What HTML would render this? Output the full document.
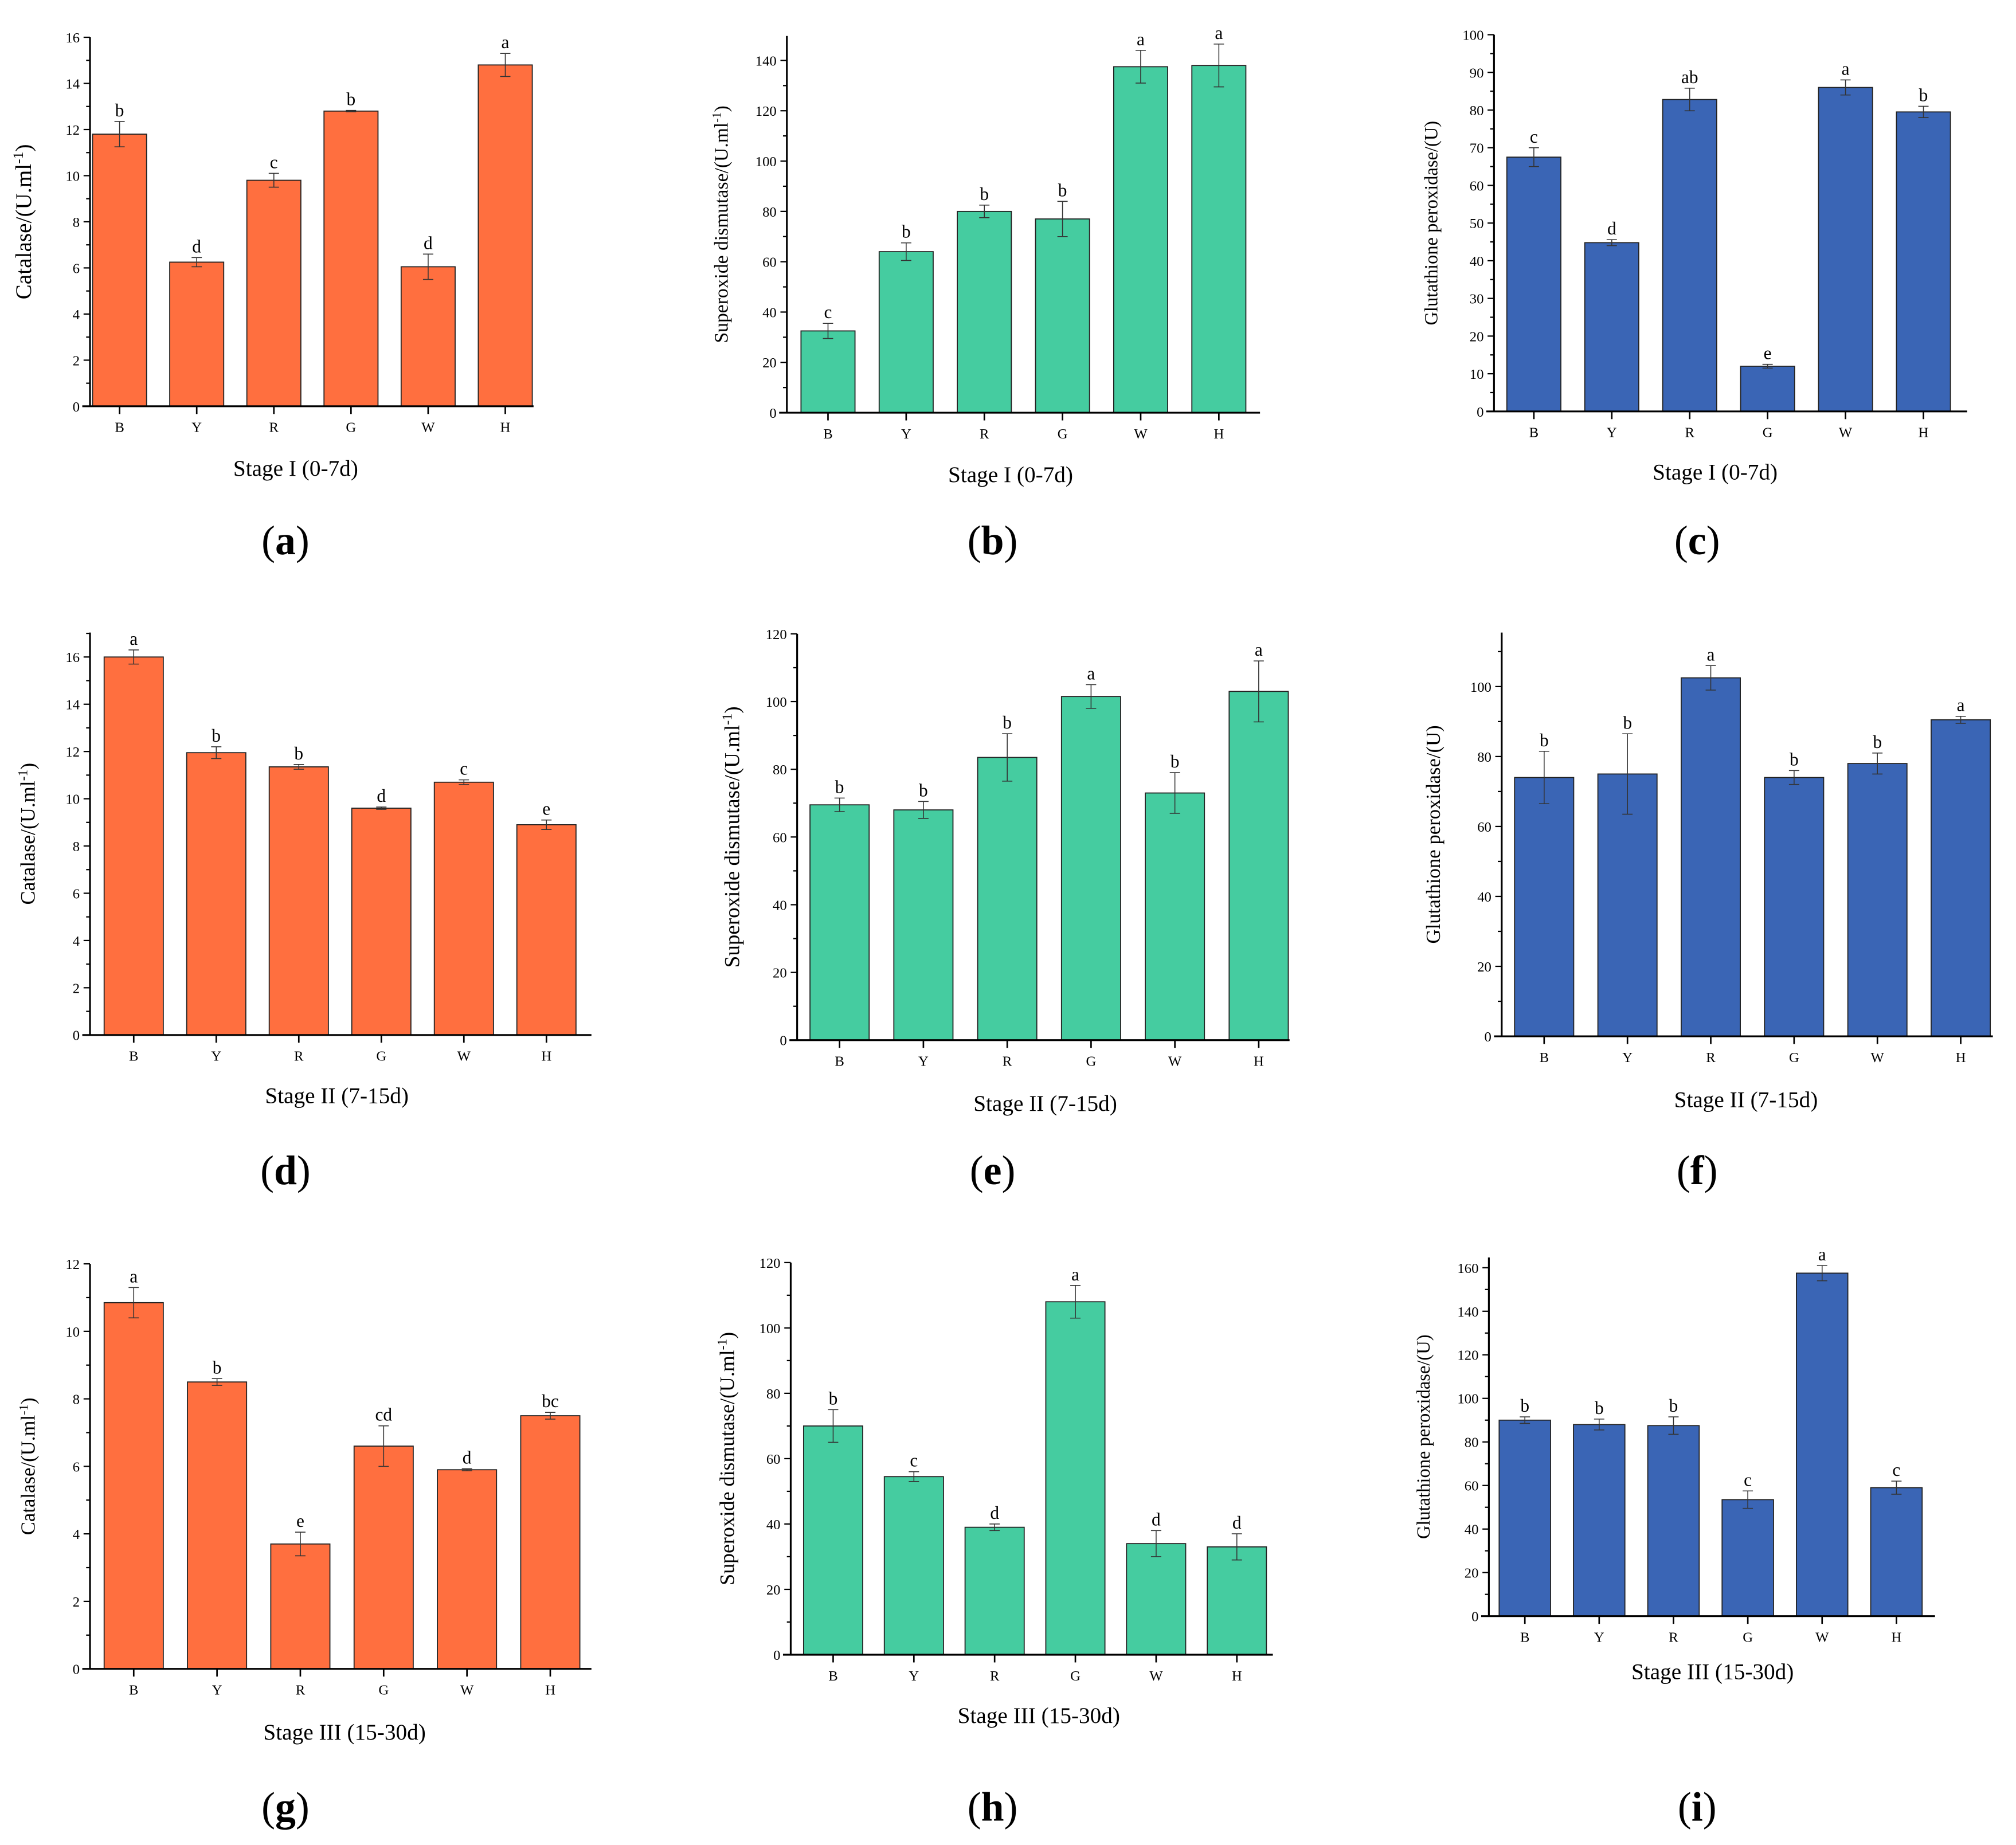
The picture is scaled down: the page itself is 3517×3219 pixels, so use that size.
<!DOCTYPE html>
<html><head><meta charset="utf-8"><style>
html,body{margin:0;padding:0;background:#fff}
svg{display:block;font-family:"Liberation Serif",serif}
</style></head><body>
<svg id="fig" width="3517" height="3219" viewBox="0 0 1568 1435" preserveAspectRatio="none" xmlns="http://www.w3.org/2000/svg"></svg>
<script>
const categories = ["B","Y","R","G","W","H"];
// Panel values (mean), errors, significance letters
const catA = [11.8,6.25,9.8,12.8,6.05,14.8];
const catAErr = [0.55,0.2,0.3,0.03,0.55,0.5];
const catALet = ["b","d","c","b","d","a"];
const sodB = [32.5,64,80,77,137.5,138];
const sodBErr = [3,3.5,2.5,7,6.5,8.5];
const sodBLet = ["c","b","b","b","a","a"];
const gpxC = [67.5,44.8,82.8,12,86,79.5];
const gpxCErr = [2.5,0.8,3,0.5,2,1.5];
const gpxCLet = ["c","d","ab","e","a","b"];
const catD = [16,11.95,11.35,9.6,10.7,8.9];
const catDErr = [0.3,0.25,0.1,0.05,0.1,0.2];
const catDLet = ["a","b","b","d","c","e"];
const sodE = [69.5,68,83.5,101.5,73,103];
const sodEErr = [2,2.5,7,3.5,6,9];
const sodELet = ["b","b","b","a","b","a"];
const gpxF = [74,75,102.5,74,78,90.5];
const gpxFErr = [7.5,11.5,3.5,2,3,1];
const gpxFLet = ["b","b","a","b","b","a"];
const catG = [10.85,8.5,3.7,6.6,5.9,7.5];
const catGErr = [0.45,0.1,0.35,0.6,0.03,0.1];
const catGLet = ["a","b","e","cd","d","bc"];
const sodH = [70,54.5,39,108,34,33];
const sodHErr = [5,1.5,1,5,4,4];
const sodHLet = ["b","c","d","a","d","d"];
const gpxI = [90,88,87.5,53.5,157.5,59];
const gpxIErr = [1.5,2.5,4,4,3.5,3];
const gpxILet = ["b","b","b","c","a","c"];
const yTicksCat16 = [0,2,4,6,8,10,12,14,16];
const yTicksSod140 = [0,20,40,60,80,100,120,140];
const yTicksGpx100 = [0,10,20,30,40,50,60,70,80,90,100];
const yTicksSod120 = [0,20,40,60,80,100,120];
const yTicksGpx100b = [0,20,40,60,80,100];
const yTicksCat12 = [0,2,4,6,8,10,12];
const yTicksGpx160 = [0,20,40,60,80,100,120,140,160];

const NS="http://www.w3.org/2000/svg";
const svg=document.getElementById('fig');
function mk(tag,attrs,parent,text){const e=document.createElementNS(NS,tag);for(const k in attrs)e.setAttribute(k,attrs[k]);if(text!==undefined)e.textContent=text;(parent||svg).appendChild(e);return e;}

const ORANGE="#FF6F3F",GREEN="#45CCA0",BLUE="#3A65B5";
const panels=[
 {id:"a",vals:catA,err:catAErr,let:catALet,ticks:yTicksCat16,ymax:16,axTop:29,x0:70,y0:316,yTopPx:29,c0:93,step:60,bw:42,xEnd:415,color:ORANGE,ylab:"Catalase/(U.ml",sup:true,ylx:24,ylfs:17.5,xt:"Stage I (0-7d)",xtx:230,xty:364,lx:222,ly:420},
 {id:"b",vals:sodB,err:sodBErr,let:sodBLet,ticks:yTicksSod140,ymax:140,axTop:28,x0:612,y0:321,yTopPx:47,c0:644,step:60.8,bw:42,xEnd:980,color:GREEN,ylab:"Superoxide dismutase/(U.ml",sup:true,ylx:566,ylfs:15,xt:"Stage I (0-7d)",xtx:786,xty:369,lx:772,ly:420},
 {id:"c",vals:gpxC,err:gpxCErr,let:gpxCLet,ticks:yTicksGpx100,ymax:100,axTop:27,x0:1162,y0:320,yTopPx:27,c0:1193,step:60.6,bw:42,xEnd:1530,color:BLUE,ylab:"Glutathione peroxidase/(U)",sup:false,ylx:1118,ylfs:14.5,xt:"Stage I (0-7d)",xtx:1334,xty:367,lx:1320,ly:420},
 {id:"d",vals:catD,err:catDErr,let:catDLet,ticks:yTicksCat16,ymax:16,axTop:492,x0:70,y0:805,yTopPx:511,c0:104,step:64.2,bw:46,xEnd:460,color:ORANGE,ylab:"Catalase/(U.ml",sup:true,ylx:27,ylfs:16,xt:"Stage II (7-15d)",xtx:262,xty:852,lx:222,ly:910},
 {id:"e",vals:sodE,err:sodEErr,let:sodELet,ticks:yTicksSod120,ymax:120,axTop:493,x0:620,y0:809,yTopPx:493,c0:653,step:65.2,bw:46,xEnd:1003,color:GREEN,ylab:"Superoxide dismutase/(U.ml",sup:true,ylx:575,ylfs:16.5,xt:"Stage II (7-15d)",xtx:813,xty:858,lx:772,ly:910},
 {id:"f",vals:gpxF,err:gpxFErr,let:gpxFLet,ticks:yTicksGpx100b,ymax:100,axTop:492,x0:1168,y0:806,yTopPx:534,c0:1201,step:64.8,bw:46,xEnd:1550,color:BLUE,ylab:"Glutathione peroxidase/(U)",sup:false,ylx:1120,ylfs:15.5,xt:"Stage II (7-15d)",xtx:1358,xty:855,lx:1320,ly:910},
 {id:"g",vals:catG,err:catGErr,let:catGLet,ticks:yTicksCat12,ymax:12,axTop:983,x0:70,y0:1298,yTopPx:983,c0:104,step:64.8,bw:46,xEnd:460,color:ORANGE,ylab:"Catalase/(U.ml",sup:true,ylx:27,ylfs:15.5,xt:"Stage III (15-30d)",xtx:268,xty:1347,lx:222,ly:1405},
 {id:"h",vals:sodH,err:sodHErr,let:sodHLet,ticks:yTicksSod120,ymax:120,axTop:982,x0:615,y0:1287,yTopPx:982,c0:648,step:62.8,bw:46,xEnd:990,color:GREEN,ylab:"Superoxide dismutase/(U.ml",sup:true,ylx:571,ylfs:16,xt:"Stage III (15-30d)",xtx:808,xty:1334,lx:772,ly:1405},
 {id:"i",vals:gpxI,err:gpxIErr,let:gpxILet,ticks:yTicksGpx160,ymax:160,axTop:978,x0:1158,y0:1257,yTopPx:986,c0:1186,step:57.8,bw:40,xEnd:1505,color:BLUE,ylab:"Glutathione peroxidase/(U)",sup:false,ylx:1112,ylfs:14.5,xt:"Stage III (15-30d)",xtx:1332,xty:1300,lx:1320,ly:1405}
];

panels.forEach(p=>{
 const g=mk('g',{});
 
 
 const y=v=>p.y0-(v/p.ymax)*(p.y0-p.yTopPx);
 const x=i=>p.c0+i*p.step;
 p.vals.forEach((v,i)=>{
  const r=mk('rect',{x:x(i)-p.bw/2,y:y(v),width:p.bw,height:p.y0-y(v),fill:p.color,stroke:"#222","stroke-width":0.8},g);
  
  
  const e=p.err[i],cx=x(i);
  const eb=mk('path',{d:`M${cx},${y(v+e)}V${y(v-e)}M${cx-4},${y(v+e)}H${cx+4}M${cx-4},${y(v-e)}H${cx+4}`,stroke:"#333","stroke-width":0.7,fill:"none"},g);
  
  
  const t=mk('text',{x:cx,y:y(v+e)-4,"text-anchor":"middle","font-size":14},g,p.let[i]);
  
  
  const tk=mk('line',{x1:cx,x2:cx,y1:p.y0,y2:p.y0+6,stroke:"#000","stroke-width":1.2},g);
  
  
  const tl=mk('text',{x:cx,y:p.y0+20,"text-anchor":"middle","font-size":11},g,categories[i]);
  
  
 });
 const ax=mk('path',{d:`M${p.x0},${p.axTop}V${p.y0}M${p.x0-6},${p.y0}H${p.xEnd}`,stroke:"#000","stroke-width":1.4,fill:"none"},g);
 
 
 const st=p.ticks[1]-p.ticks[0];
 p.ticks.forEach((v,k)=>{
  const yy=y(v);
  const tk=mk('line',{x1:p.x0-5,x2:p.x0,y1:yy,y2:yy,stroke:"#000","stroke-width":1},g);
  
  
  const tl=mk('text',{x:p.x0-8,y:yy+4,"text-anchor":"end","font-size":11},g,v);
  
  
  const mv=v+st/2;
  if(y(mv)>=p.axTop-0.5){
   const m=mk('line',{x1:p.x0-3,x2:p.x0,y1:y(mv),y2:y(mv),stroke:"#000","stroke-width":1},g);
   
   
  }
 });
 const cy=(p.y0+p.axTop)/2;
 const yl=mk('text',{x:p.ylx,y:cy,"text-anchor":"middle","font-size":p.ylfs,transform:`rotate(-90 ${p.ylx} ${cy})`},g);
 
 
 if(p.sup){
  mk('tspan',{},yl,p.ylab);
  mk('tspan',{"baseline-shift":"super","font-size":p.ylfs*0.65},yl,"-1");
  mk('tspan',{},yl,")");
 } else yl.textContent=p.ylab;
 const xt=mk('text',{x:p.xtx,y:p.xty+6,"text-anchor":"middle","font-size":17.5},g,p.xt);
 
 
 const pl=mk('text',{x:p.lx,y:p.ly+11,"text-anchor":"middle","font-size":32},g);
 
 
 mk('tspan',{},pl,"(");
 mk('tspan',{"font-weight":"bold"},pl,p.id);
 mk('tspan',{},pl,")");
});
</script>
</body></html>
